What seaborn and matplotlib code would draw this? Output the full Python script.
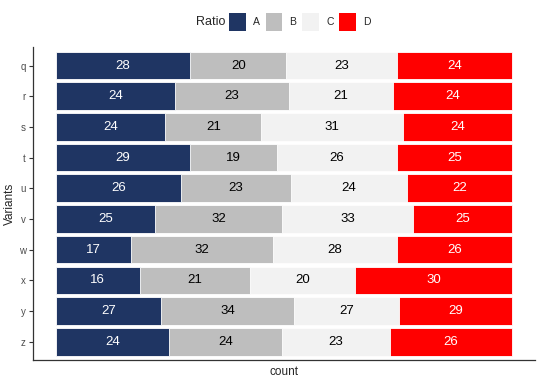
import numpy as np
import pandas as pd
import matplotlib
matplotlib.use('Agg')
import matplotlib.pyplot as plt
import seaborn as sns
from matplotlib.patches import Patch

# 数据
variants = ['q', 'r', 's', 't', 'u', 'v', 'w', 'x', 'y', 'z']
ratios = ['A', 'B', 'C', 'D']
count_a = [28, 24, 24, 29, 26, 25, 17, 16, 27, 24]
count_b = [20, 23, 21, 19, 23, 32, 32, 21, 34, 24]
count_c = [23, 21, 31, 26, 24, 33, 28, 20, 27, 23]
count_d = [24, 24, 24, 25, 22, 25, 26, 30, 29, 26]
colors = ['#1F3563', '#BEBEBE', '#F2F2F2', '#FF0000']
text_colors = ['white', 'black', 'black', 'white']

sns.set_style('white')
plt.rcParams['font.family'] = ['Liberation Sans', 'DejaVu Sans']

df = pd.DataFrame({'Variants': variants, 'A': count_a, 'B': count_b,
                   'C': count_c, 'D': count_d})
tot = df[ratios].sum(axis=1)
prop = df[ratios].div(tot, axis=0)
cum = prop.cumsum(axis=1)

fig = plt.figure(figsize=(5.4, 3.86), dpi=100)
ax = fig.add_axes([0.061, 0.067, 0.93, 0.811])

# 从右往左叠着画，前面的盖住后面的
for i in range(3, -1, -1):
    sub = pd.DataFrame({'Variants': variants, 'x': cum[ratios[i]]})
    sns.barplot(data=sub, x='x', y='Variants', order=variants, color=colors[i],
                width=0.9, edgecolor='white', linewidth=0.6, saturation=1, ax=ax)

# 数字标签
for i, r in enumerate(ratios):
    mid = cum[r] - prop[r] / 2
    for j in range(len(variants)):
        ax.text(mid.iloc[j], j, str(df[r].iloc[j]), ha='center', va='center',
                fontsize=9.5, color=text_colors[i])

ax.set_xlim(-0.05, 1.05)
ax.set_ylim(9.6, -0.6)
ax.set_xticks([])
ax.set_xlabel('count', fontsize=8.5)
ax.set_ylabel('Variants', fontsize=8.5, labelpad=2)
ax.tick_params(axis='y', length=3, color='#333333', labelsize=7, labelcolor='#4D4D4D', pad=2, left=True)
sns.despine(ax=ax)
for s in ['left', 'bottom']:
    ax.spines[s].set_color('#333333')
    ax.spines[s].set_linewidth(0.9)

# 图例放上面
handles = [Patch(facecolor=c, edgecolor='none') for c in colors]
fig.text(0.417, 0.943, 'Ratio', fontsize=9, ha='right', va='center')
fig.legend(handles, ratios, loc='center left', bbox_to_anchor=(0.424, 0.943), ncol=4,
           frameon=False, fontsize=7.5, handlelength=1.6, handleheight=2.2,
           handletextpad=0.7, columnspacing=0.55, borderpad=0, borderaxespad=0)

fig.savefig('out.png', dpi=100)
